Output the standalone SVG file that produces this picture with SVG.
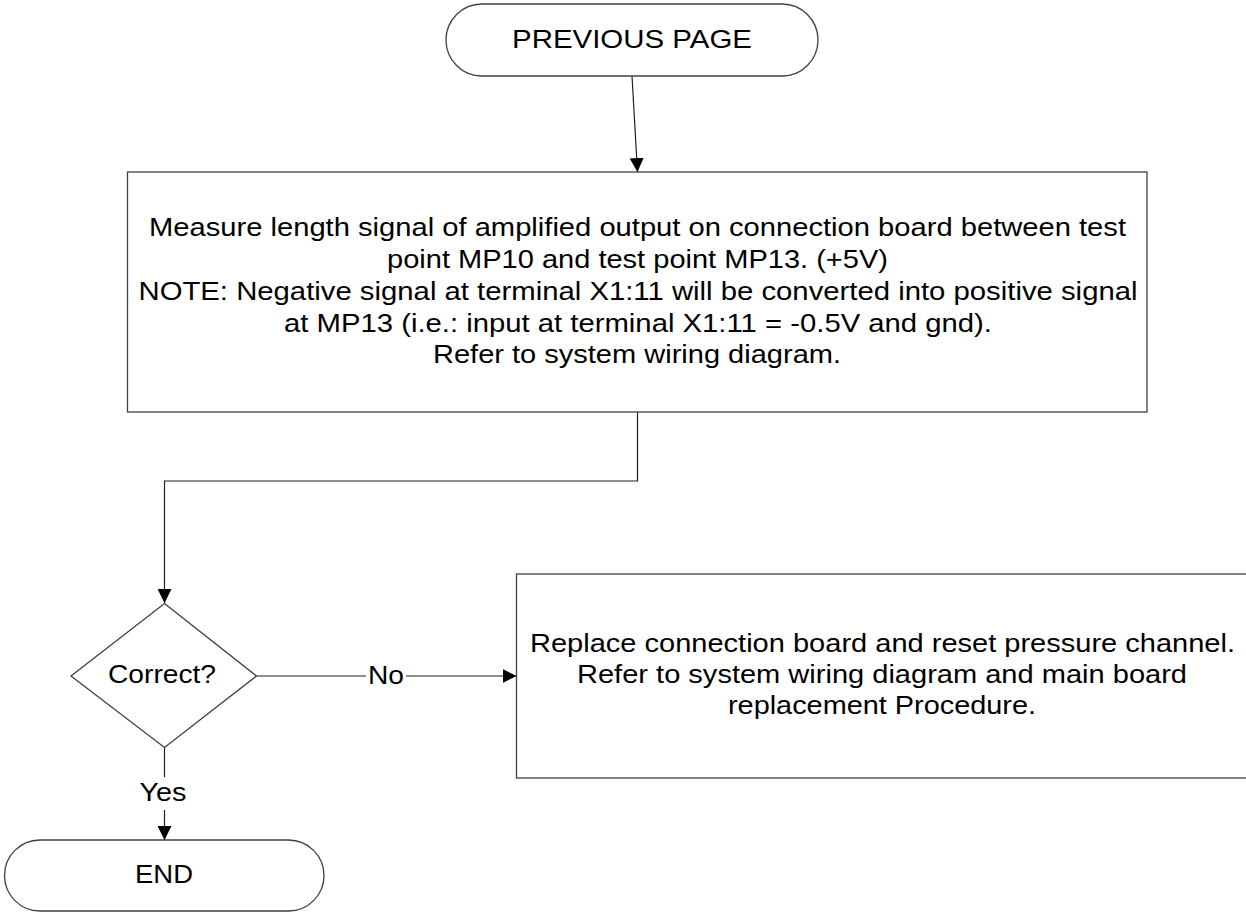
<svg xmlns="http://www.w3.org/2000/svg" width="1246" height="913" viewBox="0 0 1246 913">
<style>
  .shape { fill: #ffffff; stroke: #404040; stroke-width: 1.3; }
  .conn { fill: none; stroke: #202020; stroke-width: 1.2; }
  text { font-family: "Liberation Sans", Arial, sans-serif; font-size: 26px; fill: #000; text-anchor: middle; }
</style>
<defs>
  <marker id="arrow" viewBox="0 0 14 14" refX="14" refY="7" markerWidth="14" markerHeight="14" markerUnits="userSpaceOnUse" orient="auto">
    <path d="M0,0 L14,7 L0,14 Z" fill="#000"/>
  </marker>
</defs>
<rect width="1246" height="913" fill="#ffffff"/>

<g id="connectors">
  <line class="conn" x1="632" y1="76" x2="637.5" y2="172" marker-end="url(#arrow)"/>
  <polyline class="conn" points="637.5,412 637.5,481 164.5,481 164.5,603" marker-end="url(#arrow)"/>
  <line class="conn" x1="256.5" y1="676" x2="366" y2="676"/>
  <line class="conn" x1="406" y1="676" x2="516.5" y2="676" marker-end="url(#arrow)"/>
  <line class="conn" x1="164.5" y1="747" x2="164.5" y2="777"/>
  <line class="conn" x1="164.5" y1="810" x2="164.5" y2="840" marker-end="url(#arrow)"/>
  <text x="386" y="684" textLength="36" lengthAdjust="spacingAndGlyphs">No</text>
  <text x="163" y="801" textLength="47" lengthAdjust="spacingAndGlyphs">Yes</text>
</g>

<g id="start">
  <rect class="shape" x="446" y="4" width="372" height="72" rx="36" ry="36"/>
  <text x="632" y="48" textLength="240" lengthAdjust="spacingAndGlyphs">PREVIOUS PAGE</text>
</g>

<g id="measure">
  <rect class="shape" x="127.5" y="172" width="1019.5" height="240"/>
  <text x="637.5" y="236" textLength="977" lengthAdjust="spacingAndGlyphs">Measure length signal of amplified output on connection board between test</text>
  <text x="637.5" y="268" textLength="501" lengthAdjust="spacingAndGlyphs">point MP10 and test point MP13. (+5V)</text>
  <text x="638" y="299.5" textLength="999" lengthAdjust="spacingAndGlyphs">NOTE: Negative signal at terminal X1:11 will be converted into positive signal</text>
  <text x="638" y="331.5" textLength="708" lengthAdjust="spacingAndGlyphs">at MP13 (i.e.: input at terminal X1:11 = -0.5V and gnd).</text>
  <text x="637" y="363" textLength="408" lengthAdjust="spacingAndGlyphs">Refer to system wiring diagram.</text>
</g>

<g id="decision">
  <polygon class="shape" points="164.5,603.5 256.5,676 164.5,747.5 71,676"/>
  <text x="162" y="683" textLength="108" lengthAdjust="spacingAndGlyphs">Correct?</text>
</g>

<g id="replace">
  <rect class="shape" x="516.5" y="574" width="740" height="204"/>
  <text x="882.5" y="652" textLength="705" lengthAdjust="spacingAndGlyphs">Replace connection board and reset pressure channel.</text>
  <text x="882" y="683" textLength="610" lengthAdjust="spacingAndGlyphs">Refer to system wiring diagram and main board</text>
  <text x="882" y="714" textLength="308" lengthAdjust="spacingAndGlyphs">replacement Procedure.</text>
</g>

<g id="end">
  <rect class="shape" x="4.5" y="840" width="319.5" height="71" rx="35.5" ry="35.5"/>
  <text x="164" y="883" textLength="58" lengthAdjust="spacingAndGlyphs">END</text>
</g>
</svg>
